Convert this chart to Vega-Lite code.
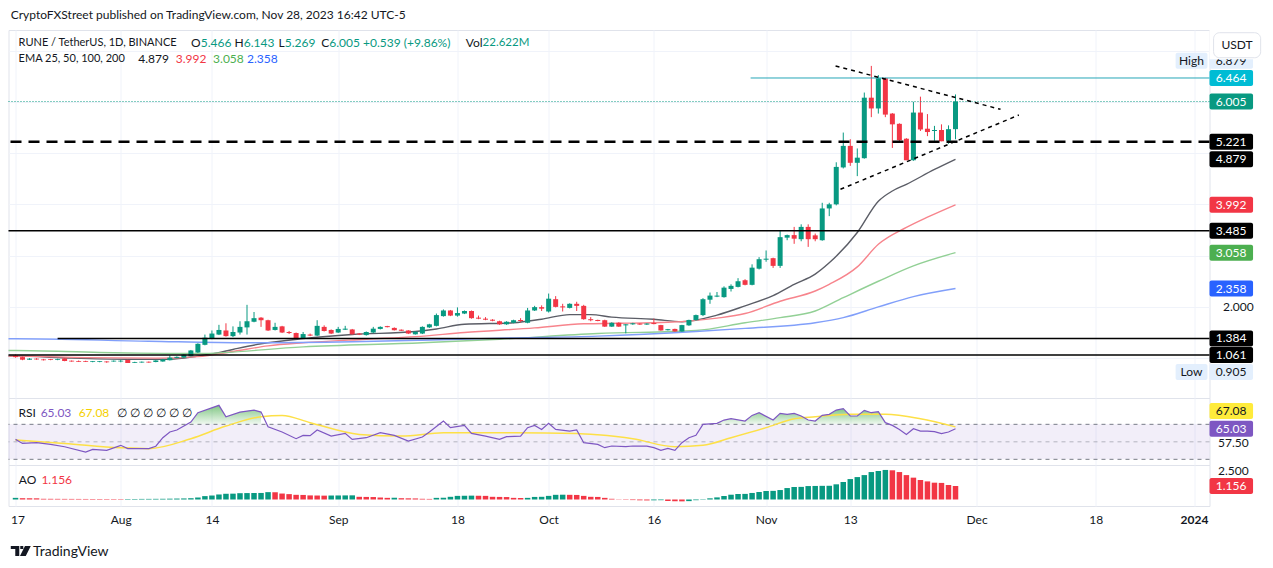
{
"$schema": "https://vega.github.io/schema/vega-lite/v6.json",
"background": "#ffffff",
"padding": {"left": 4.5, "top": 8, "right": 0, "bottom": 0},
"spacing": 0,
"bounds": "flush",
"resolve": {"scale": {"color": "independent", "fill": "independent"}},
"title": {"text": "CryptoFXStreet published on TradingView.com, Nov 28, 2023 16:42 UTC-5", "anchor": "start", "dx": 5.5, "fontSize": 12, "fontWeight": "normal", "color": "#131722", "offset": 8},
"config": {"font": "Lato", "view": {"stroke": "#e0e3eb"}, "axis": {"labelColor": "#131722", "labelFontSize": 12}},
"datasets": {
"one": [{}],
"ohlc": [
{"d":"2023-07-17","o":1.05,"h":1.07,"l":1.01,"c":1.02},
{"d":"2023-07-18","o":1.02,"h":1.03,"l":0.96,"c":0.97},
{"d":"2023-07-19","o":0.97,"h":1.0,"l":0.965,"c":0.99},
{"d":"2023-07-20","o":0.99,"h":1.0,"l":0.97,"c":0.975},
{"d":"2023-07-21","o":0.975,"h":0.985,"l":0.955,"c":0.96},
{"d":"2023-07-22","o":0.98,"h":0.985,"l":0.96,"c":0.965},
{"d":"2023-07-23","o":0.965,"h":0.99,"l":0.96,"c":0.98},
{"d":"2023-07-24","o":0.995,"h":1.0,"l":0.94,"c":0.945},
{"d":"2023-07-25","o":0.95,"h":0.955,"l":0.93,"c":0.935},
{"d":"2023-07-26","o":0.945,"h":0.955,"l":0.925,"c":0.93},
{"d":"2023-07-27","o":0.945,"h":0.95,"l":0.925,"c":0.93},
{"d":"2023-07-28","o":0.925,"h":0.945,"l":0.92,"c":0.94},
{"d":"2023-07-29","o":0.925,"h":0.945,"l":0.92,"c":0.94},
{"d":"2023-07-30","o":0.935,"h":0.94,"l":0.91,"c":0.92},
{"d":"2023-07-31","o":0.935,"h":0.955,"l":0.93,"c":0.95},
{"d":"2023-08-01","o":0.935,"h":0.965,"l":0.92,"c":0.95},
{"d":"2023-08-02","o":0.965,"h":0.97,"l":0.905,"c":0.905},
{"d":"2023-08-03","o":0.91,"h":0.93,"l":0.905,"c":0.925},
{"d":"2023-08-04","o":0.915,"h":0.935,"l":0.91,"c":0.93},
{"d":"2023-08-05","o":0.93,"h":0.935,"l":0.91,"c":0.915},
{"d":"2023-08-06","o":0.925,"h":0.96,"l":0.92,"c":0.955},
{"d":"2023-08-07","o":0.935,"h":0.985,"l":0.93,"c":0.975},
{"d":"2023-08-08","o":0.96,"h":1.055,"l":0.955,"c":1.01},
{"d":"2023-08-09","o":1.005,"h":1.035,"l":1.0,"c":1.025},
{"d":"2023-08-10","o":1.01,"h":1.075,"l":1.005,"c":1.07},
{"d":"2023-08-11","o":1.04,"h":1.16,"l":1.035,"c":1.15},
{"d":"2023-08-12","o":1.11,"h":1.29,"l":1.1,"c":1.28},
{"d":"2023-08-13","o":1.26,"h":1.46,"l":1.25,"c":1.4},
{"d":"2023-08-14","o":1.39,"h":1.54,"l":1.37,"c":1.48},
{"d":"2023-08-15","o":1.46,"h":1.65,"l":1.45,"c":1.55},
{"d":"2023-08-16","o":1.54,"h":1.68,"l":1.42,"c":1.43},
{"d":"2023-08-17","o":1.43,"h":1.62,"l":1.41,"c":1.51},
{"d":"2023-08-18","o":1.5,"h":1.72,"l":1.46,"c":1.61},
{"d":"2023-08-19","o":1.6,"h":2.04,"l":1.46,"c":1.72},
{"d":"2023-08-20","o":1.71,"h":1.9,"l":1.7,"c":1.78},
{"d":"2023-08-21","o":1.79,"h":1.8,"l":1.61,"c":1.74},
{"d":"2023-08-22","o":1.74,"h":1.75,"l":1.53,"c":1.54},
{"d":"2023-08-23","o":1.55,"h":1.69,"l":1.54,"c":1.61},
{"d":"2023-08-24","o":1.62,"h":1.63,"l":1.49,"c":1.5},
{"d":"2023-08-25","o":1.51,"h":1.53,"l":1.47,"c":1.49},
{"d":"2023-08-26","o":1.49,"h":1.5,"l":1.38,"c":1.39},
{"d":"2023-08-27","o":1.39,"h":1.51,"l":1.38,"c":1.47},
{"d":"2023-08-28","o":1.46,"h":1.48,"l":1.43,"c":1.44},
{"d":"2023-08-29","o":1.44,"h":1.74,"l":1.43,"c":1.63},
{"d":"2023-08-30","o":1.61,"h":1.64,"l":1.52,"c":1.53},
{"d":"2023-08-31","o":1.55,"h":1.56,"l":1.47,"c":1.48},
{"d":"2023-09-01","o":1.5,"h":1.61,"l":1.49,"c":1.57},
{"d":"2023-09-02","o":1.555,"h":1.63,"l":1.55,"c":1.575},
{"d":"2023-09-03","o":1.56,"h":1.57,"l":1.46,"c":1.465},
{"d":"2023-09-04","o":1.48,"h":1.49,"l":1.45,"c":1.46},
{"d":"2023-09-05","o":1.45,"h":1.52,"l":1.44,"c":1.51},
{"d":"2023-09-06","o":1.5,"h":1.61,"l":1.49,"c":1.575},
{"d":"2023-09-07","o":1.57,"h":1.62,"l":1.56,"c":1.61},
{"d":"2023-09-08","o":1.625,"h":1.63,"l":1.6,"c":1.605},
{"d":"2023-09-09","o":1.59,"h":1.6,"l":1.54,"c":1.545},
{"d":"2023-09-10","o":1.555,"h":1.56,"l":1.53,"c":1.535},
{"d":"2023-09-11","o":1.54,"h":1.545,"l":1.47,"c":1.48},
{"d":"2023-09-12","o":1.465,"h":1.52,"l":1.46,"c":1.515},
{"d":"2023-09-13","o":1.48,"h":1.62,"l":1.47,"c":1.61},
{"d":"2023-09-14","o":1.6,"h":1.67,"l":1.59,"c":1.66},
{"d":"2023-09-15","o":1.63,"h":1.87,"l":1.62,"c":1.84},
{"d":"2023-09-16","o":1.82,"h":1.95,"l":1.81,"c":1.93},
{"d":"2023-09-17","o":1.93,"h":1.94,"l":1.82,"c":1.83},
{"d":"2023-09-18","o":1.83,"h":1.99,"l":1.81,"c":1.88},
{"d":"2023-09-19","o":1.87,"h":1.93,"l":1.86,"c":1.92},
{"d":"2023-09-20","o":1.92,"h":1.93,"l":1.77,"c":1.78},
{"d":"2023-09-21","o":1.79,"h":1.83,"l":1.76,"c":1.77},
{"d":"2023-09-22","o":1.77,"h":1.8,"l":1.74,"c":1.75},
{"d":"2023-09-23","o":1.75,"h":1.76,"l":1.72,"c":1.73},
{"d":"2023-09-24","o":1.72,"h":1.73,"l":1.65,"c":1.66},
{"d":"2023-09-25","o":1.66,"h":1.72,"l":1.65,"c":1.71},
{"d":"2023-09-26","o":1.69,"h":1.75,"l":1.68,"c":1.74},
{"d":"2023-09-27","o":1.745,"h":1.78,"l":1.7,"c":1.725},
{"d":"2023-09-28","o":1.69,"h":1.98,"l":1.68,"c":1.93},
{"d":"2023-09-29","o":1.93,"h":2.02,"l":1.92,"c":1.995},
{"d":"2023-09-30","o":1.995,"h":2.03,"l":1.92,"c":1.965},
{"d":"2023-10-01","o":1.91,"h":2.26,"l":1.89,"c":2.16},
{"d":"2023-10-02","o":2.15,"h":2.21,"l":1.99,"c":2.0},
{"d":"2023-10-03","o":2.01,"h":2.06,"l":1.91,"c":1.99},
{"d":"2023-10-04","o":1.98,"h":2.07,"l":1.97,"c":2.06},
{"d":"2023-10-05","o":2.06,"h":2.1,"l":1.92,"c":2.02},
{"d":"2023-10-06","o":2.02,"h":2.04,"l":1.75,"c":1.76},
{"d":"2023-10-07","o":1.76,"h":1.8,"l":1.72,"c":1.74},
{"d":"2023-10-08","o":1.745,"h":1.75,"l":1.72,"c":1.725},
{"d":"2023-10-09","o":1.74,"h":1.75,"l":1.61,"c":1.615},
{"d":"2023-10-10","o":1.615,"h":1.7,"l":1.61,"c":1.69},
{"d":"2023-10-11","o":1.69,"h":1.7,"l":1.61,"c":1.615},
{"d":"2023-10-12","o":1.64,"h":1.665,"l":1.484,"c":1.66},
{"d":"2023-10-13","o":1.66,"h":1.69,"l":1.65,"c":1.68},
{"d":"2023-10-14","o":1.675,"h":1.68,"l":1.65,"c":1.655},
{"d":"2023-10-15","o":1.655,"h":1.68,"l":1.65,"c":1.675},
{"d":"2023-10-16","o":1.685,"h":1.77,"l":1.66,"c":1.665},
{"d":"2023-10-17","o":1.645,"h":1.65,"l":1.535,"c":1.54},
{"d":"2023-10-18","o":1.545,"h":1.57,"l":1.54,"c":1.565},
{"d":"2023-10-19","o":1.57,"h":1.575,"l":1.515,"c":1.52},
{"d":"2023-10-20","o":1.52,"h":1.65,"l":1.515,"c":1.645},
{"d":"2023-10-21","o":1.64,"h":1.75,"l":1.63,"c":1.745},
{"d":"2023-10-22","o":1.74,"h":1.85,"l":1.73,"c":1.84},
{"d":"2023-10-23","o":1.84,"h":2.17,"l":1.82,"c":2.15},
{"d":"2023-10-24","o":2.14,"h":2.28,"l":2.06,"c":2.22},
{"d":"2023-10-25","o":2.2,"h":2.29,"l":2.19,"c":2.22},
{"d":"2023-10-26","o":2.19,"h":2.4,"l":2.18,"c":2.375},
{"d":"2023-10-27","o":2.35,"h":2.44,"l":2.3,"c":2.41},
{"d":"2023-10-28","o":2.39,"h":2.56,"l":2.38,"c":2.5},
{"d":"2023-10-29","o":2.52,"h":2.54,"l":2.42,"c":2.43},
{"d":"2023-10-30","o":2.43,"h":2.83,"l":2.42,"c":2.765},
{"d":"2023-10-31","o":2.745,"h":2.97,"l":2.73,"c":2.93},
{"d":"2023-11-01","o":2.92,"h":3.1,"l":2.88,"c":2.94},
{"d":"2023-11-02","o":2.95,"h":2.96,"l":2.76,"c":2.8},
{"d":"2023-11-03","o":2.8,"h":3.48,"l":2.76,"c":3.36},
{"d":"2023-11-04","o":3.35,"h":3.41,"l":3.3,"c":3.4},
{"d":"2023-11-05","o":3.4,"h":3.56,"l":3.23,"c":3.33},
{"d":"2023-11-06","o":3.32,"h":3.61,"l":3.28,"c":3.56},
{"d":"2023-11-07","o":3.56,"h":3.61,"l":3.17,"c":3.32},
{"d":"2023-11-08","o":3.395,"h":3.43,"l":3.28,"c":3.32},
{"d":"2023-11-09","o":3.3,"h":4.03,"l":3.29,"c":3.92},
{"d":"2023-11-10","o":3.92,"h":4.03,"l":3.77,"c":4.0},
{"d":"2023-11-11","o":4.0,"h":4.82,"l":3.98,"c":4.73},
{"d":"2023-11-12","o":4.72,"h":5.4,"l":4.7,"c":5.14},
{"d":"2023-11-13","o":5.14,"h":5.27,"l":4.75,"c":4.81},
{"d":"2023-11-14","o":4.81,"h":5.09,"l":4.55,"c":4.91},
{"d":"2023-11-15","o":4.9,"h":6.18,"l":4.89,"c":6.08},
{"d":"2023-11-16","o":6.08,"h":6.7,"l":5.7,"c":5.87},
{"d":"2023-11-17","o":5.87,"h":6.52,"l":5.77,"c":6.46},
{"d":"2023-11-18","o":6.46,"h":6.47,"l":5.7,"c":5.75},
{"d":"2023-11-19","o":5.77,"h":5.78,"l":5.1,"c":5.56},
{"d":"2023-11-20","o":5.57,"h":5.58,"l":5.22,"c":5.25},
{"d":"2023-11-21","o":5.28,"h":5.29,"l":4.86,"c":4.86},
{"d":"2023-11-22","o":4.86,"h":6.0,"l":4.85,"c":5.79},
{"d":"2023-11-23","o":5.79,"h":6.1,"l":5.43,"c":5.46},
{"d":"2023-11-24","o":5.475,"h":5.76,"l":5.33,"c":5.41},
{"d":"2023-11-25","o":5.43,"h":5.53,"l":5.24,"c":5.45},
{"d":"2023-11-26","o":5.45,"h":5.56,"l":5.23,"c":5.23},
{"d":"2023-11-27","o":5.24,"h":5.54,"l":5.18,"c":5.466},
{"d":"2023-11-28","o":5.466,"h":6.143,"l":5.269,"c":6.005}
],
"ema": [
{"d":"2023-07-16","n":"25","v":1.04},{"d":"2023-07-17","n":"25","v":1.04},{"d":"2023-07-25","n":"25","v":1.0},{"d":"2023-08-02","n":"25","v":0.98},{"d":"2023-08-08","n":"25","v":0.98},{"d":"2023-08-12","n":"25","v":1.04},{"d":"2023-08-14","n":"25","v":1.08},{"d":"2023-08-17","n":"25","v":1.17},{"d":"2023-08-21","n":"25","v":1.28},{"d":"2023-08-27","n":"25","v":1.38},{"d":"2023-09-03","n":"25","v":1.46},{"d":"2023-09-12","n":"25","v":1.52},{"d":"2023-09-15","n":"25","v":1.57},{"d":"2023-09-19","n":"25","v":1.66},{"d":"2023-09-26","n":"25","v":1.69},{"d":"2023-09-30","n":"25","v":1.76},{"d":"2023-10-04","n":"25","v":1.85},{"d":"2023-10-07","n":"25","v":1.85},{"d":"2023-10-10","n":"25","v":1.8},{"d":"2023-10-16","n":"25","v":1.76},{"d":"2023-10-20","n":"25","v":1.71},{"d":"2023-10-25","n":"25","v":1.84},{"d":"2023-10-29","n":"25","v":2.02},{"d":"2023-11-02","n":"25","v":2.22},{"d":"2023-11-05","n":"25","v":2.44},{"d":"2023-11-08","n":"25","v":2.64},{"d":"2023-11-10","n":"25","v":2.86},{"d":"2023-11-14","n":"25","v":3.45},{"d":"2023-11-17","n":"25","v":4.06},{"d":"2023-11-19","n":"25","v":4.26},{"d":"2023-11-21","n":"25","v":4.39},{"d":"2023-11-25","n":"25","v":4.68},{"d":"2023-11-28","n":"25","v":4.879},
{"d":"2023-07-16","n":"50","v":1.04},{"d":"2023-07-17","n":"50","v":1.04},{"d":"2023-07-27","n":"50","v":1.01},{"d":"2023-08-06","n":"50","v":1.0},{"d":"2023-08-12","n":"50","v":1.03},{"d":"2023-08-17","n":"50","v":1.13},{"d":"2023-08-22","n":"50","v":1.24},{"d":"2023-08-27","n":"50","v":1.3},{"d":"2023-09-05","n":"50","v":1.37},{"d":"2023-09-12","n":"50","v":1.42},{"d":"2023-09-19","n":"50","v":1.5},{"d":"2023-09-29","n":"50","v":1.59},{"d":"2023-10-06","n":"50","v":1.67},{"d":"2023-10-11","n":"50","v":1.68},{"d":"2023-10-18","n":"50","v":1.7},{"d":"2023-10-25","n":"50","v":1.78},{"d":"2023-10-29","n":"50","v":1.87},{"d":"2023-11-03","n":"50","v":2.11},{"d":"2023-11-08","n":"50","v":2.31},{"d":"2023-11-10","n":"50","v":2.44},{"d":"2023-11-14","n":"50","v":2.78},{"d":"2023-11-17","n":"50","v":3.22},{"d":"2023-11-21","n":"50","v":3.55},{"d":"2023-11-24","n":"50","v":3.75},{"d":"2023-11-28","n":"50","v":3.992},
{"d":"2023-07-16","n":"100","v":1.15},{"d":"2023-07-17","n":"100","v":1.15},{"d":"2023-07-29","n":"100","v":1.11},{"d":"2023-08-12","n":"100","v":1.09},{"d":"2023-08-27","n":"100","v":1.22},{"d":"2023-09-13","n":"100","v":1.3},{"d":"2023-09-24","n":"100","v":1.37},{"d":"2023-10-08","n":"100","v":1.48},{"d":"2023-10-22","n":"100","v":1.54},{"d":"2023-10-29","n":"100","v":1.69},{"d":"2023-11-03","n":"100","v":1.79},{"d":"2023-11-08","n":"100","v":1.92},{"d":"2023-11-12","n":"100","v":2.18},{"d":"2023-11-17","n":"100","v":2.5},{"d":"2023-11-22","n":"100","v":2.8},{"d":"2023-11-28","n":"100","v":3.058},
{"d":"2023-07-16","n":"200","v":1.38},{"d":"2023-07-17","n":"200","v":1.38},{"d":"2023-08-05","n":"200","v":1.33},{"d":"2023-08-19","n":"200","v":1.3},{"d":"2023-09-03","n":"200","v":1.32},{"d":"2023-09-13","n":"200","v":1.35},{"d":"2023-09-24","n":"200","v":1.39},{"d":"2023-10-08","n":"200","v":1.43},{"d":"2023-10-22","n":"200","v":1.52},{"d":"2023-10-29","n":"200","v":1.58},{"d":"2023-11-08","n":"200","v":1.69},{"d":"2023-11-12","n":"200","v":1.79},{"d":"2023-11-17","n":"200","v":2.0},{"d":"2023-11-22","n":"200","v":2.2},{"d":"2023-11-28","n":"200","v":2.358}
],
"tri": [
{"x1":"2023-11-10T21:40:00Z","p1":6.698,"x2":"2023-12-04T10:00:00Z","p2":5.853},
{"x1":"2023-11-11T14:24:00Z","p1":4.293,"x2":"2023-12-07T00:45:00Z","p2":5.742}
],
"tags": [
{"v":6.464,"k":"cyan"},{"v":6.005,"k":"teal"},{"v":5.221,"k":"black"},{"v":4.879,"k":"black"},{"v":3.992,"k":"red"},{"v":3.485,"k":"black"},{"v":3.058,"k":"green"},{"v":2.358,"k":"blue"},{"v":1.384,"k":"black"},{"v":1.061,"k":"black"}
],
"rsi": [
{"d":"2023-07-17","v":52.8},{"d":"2023-07-18","v":48.2},{"d":"2023-07-20","v":49},{"d":"2023-07-22","v":47.1},{"d":"2023-07-24","v":44.4},{"d":"2023-07-27","v":38.3},{"d":"2023-07-28","v":41.4},{"d":"2023-07-30","v":40.2},{"d":"2023-08-01","v":46},{"d":"2023-08-02","v":42.2},{"d":"2023-08-05","v":42.2},{"d":"2023-08-06","v":45},{"d":"2023-08-07","v":54.7},{"d":"2023-08-08","v":61.2},{"d":"2023-08-09","v":63.5},{"d":"2023-08-11","v":72.6},{"d":"2023-08-12","v":83.3},{"d":"2023-08-15","v":91.7},{"d":"2023-08-16","v":78.7},{"d":"2023-08-18","v":84},{"d":"2023-08-20","v":86.3},{"d":"2023-08-21","v":84},{"d":"2023-08-22","v":67.3},{"d":"2023-08-24","v":61.2},{"d":"2023-08-26","v":53.6},{"d":"2023-08-27","v":57.4},{"d":"2023-08-28","v":57},{"d":"2023-08-29","v":63.5},{"d":"2023-08-31","v":56.6},{"d":"2023-09-02","v":59.7},{"d":"2023-09-03","v":52.8},{"d":"2023-09-05","v":54.7},{"d":"2023-09-07","v":60.4},{"d":"2023-09-09","v":57.4},{"d":"2023-09-11","v":50.9},{"d":"2023-09-13","v":55.5},{"d":"2023-09-14","v":61.2},{"d":"2023-09-16","v":73.8},{"d":"2023-09-17","v":66.2},{"d":"2023-09-19","v":68.8},{"d":"2023-09-20","v":59.7},{"d":"2023-09-22","v":56.6},{"d":"2023-09-24","v":52.8},{"d":"2023-09-25","v":55.9},{"d":"2023-09-27","v":56.5},{"d":"2023-09-28","v":66.2},{"d":"2023-09-29","v":68.8},{"d":"2023-09-30","v":64.2},{"d":"2023-10-01","v":71.1},{"d":"2023-10-02","v":64.2},{"d":"2023-10-04","v":62.3},{"d":"2023-10-05","v":63.5},{"d":"2023-10-06","v":49},{"d":"2023-10-08","v":47.1},{"d":"2023-10-09","v":43.3},{"d":"2023-10-10","v":45.2},{"d":"2023-10-12","v":44.4},{"d":"2023-10-13","v":45.2},{"d":"2023-10-15","v":45},{"d":"2023-10-16","v":43.3},{"d":"2023-10-17","v":40.2},{"d":"2023-10-18","v":42.5},{"d":"2023-10-19","v":40.2},{"d":"2023-10-20","v":49},{"d":"2023-10-21","v":54.7},{"d":"2023-10-22","v":57.4},{"d":"2023-10-23","v":70},{"d":"2023-10-25","v":71.1},{"d":"2023-10-26","v":74.9},{"d":"2023-10-27","v":76.4},{"d":"2023-10-29","v":73.8},{"d":"2023-10-30","v":80.2},{"d":"2023-10-31","v":83.3},{"d":"2023-11-02","v":74.9},{"d":"2023-11-03","v":82.5},{"d":"2023-11-04","v":81.4},{"d":"2023-11-05","v":82.5},{"d":"2023-11-06","v":79.5},{"d":"2023-11-07","v":74.9},{"d":"2023-11-08","v":73.8},{"d":"2023-11-09","v":80.2},{"d":"2023-11-10","v":81.4},{"d":"2023-11-11","v":86.3},{"d":"2023-11-12","v":87.9},{"d":"2023-11-13","v":79.5},{"d":"2023-11-14","v":79.5},{"d":"2023-11-15","v":86},{"d":"2023-11-16","v":83.3},{"d":"2023-11-17","v":84.4},{"d":"2023-11-18","v":71.9},{"d":"2023-11-19","v":68.8},{"d":"2023-11-20","v":64.2},{"d":"2023-11-21","v":58.5},{"d":"2023-11-22","v":65},{"d":"2023-11-23","v":62.3},{"d":"2023-11-24","v":62.3},{"d":"2023-11-25","v":61.6},{"d":"2023-11-26","v":59.3},{"d":"2023-11-27","v":61.2},{"d":"2023-11-28","v":65.03}
],
"rsima": [
{"d":"2023-07-17","v":52},{"d":"2023-07-24","v":48.2},{"d":"2023-08-01","v":43.3},{"d":"2023-08-05","v":42.2},{"d":"2023-08-11","v":53.6},{"d":"2023-08-16","v":68},{"d":"2023-08-21","v":78.7},{"d":"2023-08-24","v":80.2},{"d":"2023-08-28","v":71.9},{"d":"2023-09-04","v":58.5},{"d":"2023-09-10","v":56.6},{"d":"2023-09-16","v":60.4},{"d":"2023-09-26","v":60.4},{"d":"2023-10-05","v":59.5},{"d":"2023-10-08","v":58},{"d":"2023-10-13","v":53.6},{"d":"2023-10-19","v":44.4},{"d":"2023-10-23","v":46},{"d":"2023-10-27","v":54.7},{"d":"2023-11-01","v":66.2},{"d":"2023-11-05","v":76.4},{"d":"2023-11-08","v":78.7},{"d":"2023-11-13","v":81.4},{"d":"2023-11-18","v":81.4},{"d":"2023-11-23","v":76.4},{"d":"2023-11-28","v":67.08}
],
"ao": [
{"d":"2023-07-17","v":0.14,"s":"up"},{"d":"2023-07-18","v":0.11,"s":"dn"},{"d":"2023-07-19","v":0.105,"s":"dn"},{"d":"2023-07-20","v":0.1,"s":"dn"},{"d":"2023-07-21","v":0.06,"s":"dn"},{"d":"2023-07-22","v":0.058,"s":"dn"},{"d":"2023-07-23","v":0.055,"s":"dn"},{"d":"2023-07-24","v":0.052,"s":"dn"},{"d":"2023-07-25","v":0.05,"s":"dn"},{"d":"2023-07-26","v":0.048,"s":"dn"},{"d":"2023-07-27","v":0.046,"s":"dn"},{"d":"2023-07-28","v":0.044,"s":"dn"},{"d":"2023-07-29","v":0.042,"s":"dn"},{"d":"2023-07-30","v":0.04,"s":"dn"},{"d":"2023-07-31","v":0.038,"s":"dn"},{"d":"2023-08-01","v":0.036,"s":"dn"},
{"d":"2023-08-02","v":0.04,"s":"up"},{"d":"2023-08-03","v":0.045,"s":"up"},{"d":"2023-08-04","v":0.05,"s":"up"},{"d":"2023-08-05","v":0.052,"s":"up"},{"d":"2023-08-06","v":0.056,"s":"up"},{"d":"2023-08-07","v":0.06,"s":"up"},{"d":"2023-08-08","v":0.07,"s":"up"},{"d":"2023-08-09","v":0.08,"s":"up"},{"d":"2023-08-10","v":0.09,"s":"up"},{"d":"2023-08-11","v":0.11,"s":"up"},{"d":"2023-08-12","v":0.17,"s":"up"},{"d":"2023-08-13","v":0.29,"s":"up"},{"d":"2023-08-14","v":0.34,"s":"up"},{"d":"2023-08-15","v":0.43,"s":"up"},{"d":"2023-08-16","v":0.49,"s":"up"},{"d":"2023-08-17","v":0.5,"s":"up"},{"d":"2023-08-18","v":0.54,"s":"up"},{"d":"2023-08-19","v":0.55,"s":"up"},{"d":"2023-08-20","v":0.555,"s":"up"},{"d":"2023-08-21","v":0.56,"s":"up"},{"d":"2023-08-22","v":0.63,"s":"up"},
{"d":"2023-08-23","v":0.62,"s":"dn"},{"d":"2023-08-24","v":0.51,"s":"dn"},{"d":"2023-08-25","v":0.46,"s":"dn"},{"d":"2023-08-26","v":0.4,"s":"dn"},{"d":"2023-08-27","v":0.39,"s":"dn"},{"d":"2023-08-28","v":0.35,"s":"dn"},{"d":"2023-08-29","v":0.34,"s":"dn"},{"d":"2023-08-30","v":0.33,"s":"dn"},
{"d":"2023-08-31","v":0.34,"s":"up"},{"d":"2023-09-01","v":0.345,"s":"up"},{"d":"2023-09-02","v":0.35,"s":"up"},{"d":"2023-09-03","v":0.355,"s":"up"},
{"d":"2023-09-04","v":0.23,"s":"dn"},{"d":"2023-09-05","v":0.22,"s":"dn"},{"d":"2023-09-06","v":0.21,"s":"dn"},{"d":"2023-09-07","v":0.17,"s":"dn"},{"d":"2023-09-08","v":0.14,"s":"dn"},
{"d":"2023-09-09","v":0.15,"s":"up"},
{"d":"2023-09-10","v":0.11,"s":"dn"},{"d":"2023-09-11","v":0.1,"s":"dn"},{"d":"2023-09-12","v":0.09,"s":"dn"},{"d":"2023-09-13","v":0.06,"s":"dn"},{"d":"2023-09-14","v":0.05,"s":"dn"},
{"d":"2023-09-15","v":0.14,"s":"up"},{"d":"2023-09-16","v":0.15,"s":"up"},{"d":"2023-09-17","v":0.23,"s":"up"},{"d":"2023-09-18","v":0.31,"s":"up"},{"d":"2023-09-19","v":0.32,"s":"up"},{"d":"2023-09-20","v":0.33,"s":"up"},
{"d":"2023-09-21","v":0.32,"s":"dn"},{"d":"2023-09-22","v":0.31,"s":"dn"},{"d":"2023-09-23","v":0.23,"s":"dn"},{"d":"2023-09-24","v":0.22,"s":"dn"},{"d":"2023-09-25","v":0.21,"s":"dn"},{"d":"2023-09-26","v":0.14,"s":"dn"},{"d":"2023-09-27","v":0.13,"s":"dn"},
{"d":"2023-09-28","v":0.14,"s":"up"},{"d":"2023-09-29","v":0.22,"s":"up"},{"d":"2023-09-30","v":0.23,"s":"up"},{"d":"2023-10-01","v":0.31,"s":"up"},{"d":"2023-10-02","v":0.4,"s":"up"},{"d":"2023-10-03","v":0.41,"s":"up"},
{"d":"2023-10-04","v":0.4,"s":"dn"},{"d":"2023-10-05","v":0.39,"s":"dn"},{"d":"2023-10-06","v":0.31,"s":"dn"},{"d":"2023-10-07","v":0.23,"s":"dn"},{"d":"2023-10-08","v":0.22,"s":"dn"},{"d":"2023-10-09","v":0.14,"s":"dn"},{"d":"2023-10-10","v":0.06,"s":"dn"},{"d":"2023-10-11","v":0.02,"s":"dn"},{"d":"2023-10-12","v":-0.03,"s":"dn"},{"d":"2023-10-13","v":-0.05,"s":"dn"},{"d":"2023-10-14","v":-0.07,"s":"dn"},{"d":"2023-10-15","v":-0.08,"s":"dn"},
{"d":"2023-10-16","v":-0.07,"s":"up"},{"d":"2023-10-17","v":-0.06,"s":"up"},
{"d":"2023-10-18","v":-0.13,"s":"dn"},{"d":"2023-10-19","v":-0.15,"s":"dn"},{"d":"2023-10-20","v":-0.16,"s":"dn"},
{"d":"2023-10-21","v":-0.14,"s":"up"},{"d":"2023-10-22","v":-0.06,"s":"up"},{"d":"2023-10-23","v":0.03,"s":"up"},{"d":"2023-10-24","v":0.1,"s":"up"},{"d":"2023-10-25","v":0.18,"s":"up"},{"d":"2023-10-26","v":0.3,"s":"up"},{"d":"2023-10-27","v":0.41,"s":"up"},{"d":"2023-10-28","v":0.47,"s":"up"},{"d":"2023-10-29","v":0.48,"s":"up"},{"d":"2023-10-30","v":0.56,"s":"up"},{"d":"2023-10-31","v":0.64,"s":"up"},{"d":"2023-11-01","v":0.73,"s":"up"},{"d":"2023-11-02","v":0.74,"s":"up"},{"d":"2023-11-03","v":0.81,"s":"up"},{"d":"2023-11-04","v":0.98,"s":"up"},{"d":"2023-11-05","v":1.07,"s":"up"},{"d":"2023-11-06","v":1.08,"s":"up"},{"d":"2023-11-07","v":1.15,"s":"up"},{"d":"2023-11-08","v":1.16,"s":"up"},{"d":"2023-11-09","v":1.17,"s":"up"},{"d":"2023-11-10","v":1.175,"s":"up"},{"d":"2023-11-11","v":1.3,"s":"up"},{"d":"2023-11-12","v":1.5,"s":"up"},{"d":"2023-11-13","v":1.75,"s":"up"},{"d":"2023-11-14","v":1.92,"s":"up"},{"d":"2023-11-15","v":2.09,"s":"up"},{"d":"2023-11-16","v":2.35,"s":"up"},{"d":"2023-11-17","v":2.44,"s":"up"},{"d":"2023-11-18","v":2.53,"s":"up"},
{"d":"2023-11-19","v":2.5,"s":"dn"},{"d":"2023-11-20","v":2.35,"s":"dn"},{"d":"2023-11-21","v":2.09,"s":"dn"},{"d":"2023-11-22","v":1.87,"s":"dn"},{"d":"2023-11-23","v":1.67,"s":"dn"},{"d":"2023-11-24","v":1.55,"s":"dn"},{"d":"2023-11-25","v":1.44,"s":"dn"},{"d":"2023-11-26","v":1.42,"s":"dn"},{"d":"2023-11-27","v":1.24,"s":"dn"},{"d":"2023-11-28","v":1.156,"s":"dn"}
]
},
"vconcat": [
{
"width": 1201, "height": 368,
"layer": [
{"data": {"name": "ema"}, "mark": {"type": "line", "strokeWidth": 1.4, "interpolate": "monotone"},
 "encoding": {
  "x": {"field": "d", "type": "temporal", "scale": {"type": "utc", "padding": 0, "domain": [{"year":2023,"month":7,"date":16,"utc":true},{"year":2024,"month":1,"date":3,"hours":5,"utc":true}]},
        "axis": {"labels": false, "ticks": false, "domain": false, "title": null, "grid": true, "gridColor": "#f0f3fa",
                 "values": [{"year":2023,"month":7,"date":17,"utc":true},{"year":2023,"month":8,"date":1,"utc":true},{"year":2023,"month":8,"date":14,"utc":true},{"year":2023,"month":9,"date":1,"utc":true},{"year":2023,"month":9,"date":18,"utc":true},{"year":2023,"month":10,"date":1,"utc":true},{"year":2023,"month":10,"date":16,"utc":true},{"year":2023,"month":11,"date":1,"utc":true},{"year":2023,"month":11,"date":13,"utc":true},{"year":2023,"month":12,"date":1,"utc":true},{"year":2023,"month":12,"date":18,"utc":true},{"year":2024,"month":1,"date":1,"utc":true}]}},
  "y": {"field": "v", "type": "quantitative", "scale": {"domain": [0.223, 7.4], "nice": false, "zero": false, "padding": 0},
        "axis": {"orient": "right", "values": [1,2,3,4,5,6,7], "grid": true, "gridColor": "#f0f3fa", "ticks": false, "domain": false, "title": null, "labelPadding": 13, "labelExpr": "datum.value == 2 ? '2.000' : ''"}},
  "color": {"field": "n", "type": "nominal", "scale": {"domain": ["25","50","100","200"], "range": ["#5b5d66","#f7848c","#92d095","#819ffa"]}, "legend": null}
 }},
{"data": {"name": "ohlc"}, "mark": {"type": "rule", "strokeWidth": 1},
 "encoding": {"x": {"field": "d", "type": "temporal"}, "y": {"field": "l", "type": "quantitative"}, "y2": {"field": "h"},
  "color": {"condition": {"test": "datum.c >= datum.o", "value": "#089981"}, "value": "#f23645"}}},
{"data": {"name": "ohlc"}, "mark": {"type": "bar", "size": 5},
 "encoding": {"x": {"field": "d", "type": "temporal"}, "y": {"field": "o", "type": "quantitative"}, "y2": {"field": "c"},
  "color": {"condition": {"test": "datum.c >= datum.o", "value": "#089981"}, "value": "#f23645"}}},
{"data": {"name": "one"}, "mark": {"type": "rule", "color": "#089981", "strokeDash": [1, 2], "strokeWidth": 1}, "encoding": {"y": {"datum": 6.005}}},
{"data": {"name": "one"}, "mark": {"type": "rule", "color": "#000000", "strokeDash": [11, 7], "strokeWidth": 2.5}, "encoding": {"y": {"datum": 5.221}}},
{"data": {"name": "one"}, "mark": {"type": "rule", "color": "#000000", "strokeWidth": 1.5}, "encoding": {"y": {"datum": 3.485}}},
{"data": {"name": "one"}, "mark": {"type": "rule", "color": "#000000", "strokeWidth": 1.5}, "encoding": {"y": {"datum": 1.061}}},
{"data": {"name": "one"}, "mark": {"type": "rule", "color": "#000000", "strokeWidth": 1.5},
 "encoding": {"x": {"datum": {"year":2023,"month":7,"date":23,"utc":true}, "type": "temporal"}, "x2": {"datum": {"year":2024,"month":1,"date":3,"hours":5,"utc":true}}, "y": {"datum": 1.384}}},
{"data": {"name": "one"}, "mark": {"type": "rule", "color": "#26a6b8", "strokeWidth": 1},
 "encoding": {"x": {"datum": {"year":2023,"month":10,"date":29,"hours":19,"utc":true}, "type": "temporal"}, "x2": {"datum": {"year":2024,"month":1,"date":3,"hours":5,"utc":true}}, "y": {"datum": 6.464}}},
{"data": {"name": "tri"}, "mark": {"type": "rule", "color": "#000000", "strokeDash": [4, 4], "strokeWidth": 1.5},
 "encoding": {"x": {"field": "x1", "type": "temporal"}, "x2": {"field": "x2"}, "y": {"field": "p1", "type": "quantitative"}, "y2": {"field": "p2"}}},
{"data": {"name": "tags"}, "mark": {"type": "rect", "yOffset": -8, "y2Offset": 8, "cornerRadius": 2},
 "encoding": {"x": {"datum": {"year":2024,"month":1,"date":3,"hours":5,"utc":true}, "type": "temporal"}, "x2": {"datum": {"year":2024,"month":1,"date":9,"hours":10,"utc":true}},
  "y": {"field": "v", "type": "quantitative"}, "y2": {"field": "v"},
  "fill": {"field": "k", "type": "nominal", "scale": {"domain": ["cyan","teal","black","red","green","blue"], "range": ["#00bcd4","#089981","#000000","#f23645","#4caf50","#2962ff"]}, "legend": null}}},
{"data": {"name": "tags"}, "mark": {"type": "text", "color": "#ffffff", "fontSize": 12, "baseline": "middle", "align": "center"},
 "encoding": {"x": {"datum": {"year":2024,"month":1,"date":6,"hours":7,"utc":true}, "type": "temporal"}, "y": {"field": "v", "type": "quantitative"}, "text": {"field": "v", "format": ".3f"}}},
{"data": {"values": [{"v": 6.879}]}, "layer": [
 {"mark": {"type": "rect", "color": "#e3effd", "yOffset": -4, "y2Offset": 12, "cornerRadius": 2},
  "encoding": {"x": {"datum": {"year":2024,"month":1,"date":3,"hours":5,"utc":true}, "type": "temporal"}, "x2": {"datum": {"year":2024,"month":1,"date":9,"hours":10,"utc":true}}, "y": {"field": "v", "type": "quantitative"}, "y2": {"field": "v"}}},
 {"mark": {"type": "rect", "color": "#e3effd", "yOffset": -4, "y2Offset": 12, "cornerRadius": 2},
  "encoding": {"x": {"datum": {"year":2023,"month":12,"date":29,"hours":9,"utc":true}, "type": "temporal"}, "x2": {"datum": {"year":2024,"month":1,"date":2,"hours":22,"utc":true}}, "y": {"field": "v", "type": "quantitative"}, "y2": {"field": "v"}}},
 {"mark": {"type": "text", "color": "#131722", "fontSize": 12, "dy": 4, "baseline": "middle", "align": "center"},
  "encoding": {"x": {"datum": {"year":2024,"month":1,"date":6,"hours":7,"utc":true}, "type": "temporal"}, "y": {"field": "v", "type": "quantitative"}, "text": {"field": "v", "format": ".3f"}}},
 {"mark": {"type": "text", "color": "#131722", "fontSize": 12, "dy": 4, "baseline": "middle", "align": "center"},
  "encoding": {"x": {"datum": {"year":2023,"month":12,"date":31,"hours":15,"utc":true}, "type": "temporal"}, "y": {"field": "v", "type": "quantitative"}, "text": {"value": "High"}}}
]},
{"data": {"values": [{"v": 0.905}]}, "layer": [
 {"mark": {"type": "rect", "color": "#e3effd", "yOffset": 1, "y2Offset": 17, "cornerRadius": 2},
  "encoding": {"x": {"datum": {"year":2024,"month":1,"date":3,"hours":5,"utc":true}, "type": "temporal"}, "x2": {"datum": {"year":2024,"month":1,"date":9,"hours":10,"utc":true}}, "y": {"field": "v", "type": "quantitative"}, "y2": {"field": "v"}}},
 {"mark": {"type": "rect", "color": "#e3effd", "yOffset": 1, "y2Offset": 17, "cornerRadius": 2},
  "encoding": {"x": {"datum": {"year":2023,"month":12,"date":29,"hours":9,"utc":true}, "type": "temporal"}, "x2": {"datum": {"year":2024,"month":1,"date":2,"hours":22,"utc":true}}, "y": {"field": "v", "type": "quantitative"}, "y2": {"field": "v"}}},
 {"mark": {"type": "text", "color": "#131722", "fontSize": 12, "dy": 9, "baseline": "middle", "align": "center"},
  "encoding": {"x": {"datum": {"year":2024,"month":1,"date":6,"hours":7,"utc":true}, "type": "temporal"}, "y": {"field": "v", "type": "quantitative"}, "text": {"field": "v", "format": ".3f"}}},
 {"mark": {"type": "text", "color": "#131722", "fontSize": 12, "dy": 9, "baseline": "middle", "align": "center"},
  "encoding": {"x": {"datum": {"year":2023,"month":12,"date":31,"hours":15,"utc":true}, "type": "temporal"}, "y": {"field": "v", "type": "quantitative"}, "text": {"value": "Low"}}}
]},
{"data": {"name": "one"}, "mark": {"type": "rect", "fill": "#ffffff"},
 "encoding": {"x": {"datum": {"year":2024,"month":1,"date":3,"hours":5,"utc":true}, "type": "temporal"}, "x2": {"datum": {"year":2024,"month":1,"date":10,"hours":18,"utc":true}}, "y": {"datum": 7.4}, "y2": {"datum": 6.83}}},
{"data": {"name": "one"}, "mark": {"type": "rect", "fill": "#ffffff", "stroke": "#e0e3eb", "strokeWidth": 1, "cornerRadius": 6},
 "encoding": {"x": {"datum": {"year":2024,"month":1,"date":3,"hours":19,"utc":true}, "type": "temporal"}, "x2": {"datum": {"year":2024,"month":1,"date":10,"hours":12,"utc":true}}, "y": {"datum": 7.347}, "y2": {"datum": 6.859}}},
{"data": {"name": "one"}, "mark": {"type": "text", "color": "#131722", "fontSize": 12, "baseline": "middle", "align": "center"},
 "encoding": {"x": {"datum": {"year":2024,"month":1,"date":7,"hours":3,"utc":true}, "type": "temporal"}, "y": {"datum": 7.104}, "text": {"value": "USDT"}}},
{"data": {"name": "one"}, "mark": {"type": "text", "align": "left", "baseline": "middle", "fontSize": 11, "color": "#131722"},
 "encoding": {"x": {"datum": {"year":2023,"month":7,"date":17,"hours":10,"minutes":30,"utc":true}, "type": "temporal"}, "y": {"datum": 7.147}, "text": {"value": "RUNE / TetherUS, 1D, BINANCE"}}},
{"data": {"name": "one"}, "mark": {"type": "text", "align": "right", "baseline": "middle", "fontSize": 12, "color": "#131722"},
 "encoding": {"x": {"datum": {"year":2023,"month":8,"date":12,"hours":9,"minutes":30,"utc":true}, "type": "temporal"}, "y": {"datum": 7.147}, "text": {"value": "O"}}},
{"data": {"name": "one"}, "mark": {"type": "text", "align": "left", "baseline": "middle", "fontSize": 12, "color": "#089981"},
 "encoding": {"x": {"datum": {"year":2023,"month":8,"date":12,"hours":9,"minutes":30,"utc":true}, "type": "temporal"}, "y": {"datum": 7.147}, "text": {"value": "5.466"}}},
{"data": {"name": "one"}, "mark": {"type": "text", "align": "right", "baseline": "middle", "fontSize": 12, "color": "#131722"},
 "encoding": {"x": {"datum": {"year":2023,"month":8,"date":18,"hours":13,"utc":true}, "type": "temporal"}, "y": {"datum": 7.147}, "text": {"value": "H"}}},
{"data": {"name": "one"}, "mark": {"type": "text", "align": "left", "baseline": "middle", "fontSize": 12, "color": "#089981"},
 "encoding": {"x": {"datum": {"year":2023,"month":8,"date":18,"hours":13,"utc":true}, "type": "temporal"}, "y": {"datum": 7.147}, "text": {"value": "6.143"}}},
{"data": {"name": "one"}, "mark": {"type": "text", "align": "right", "baseline": "middle", "fontSize": 12, "color": "#131722"},
 "encoding": {"x": {"datum": {"year":2023,"month":8,"date":24,"hours":9,"utc":true}, "type": "temporal"}, "y": {"datum": 7.147}, "text": {"value": "L"}}},
{"data": {"name": "one"}, "mark": {"type": "text", "align": "left", "baseline": "middle", "fontSize": 12, "color": "#089981"},
 "encoding": {"x": {"datum": {"year":2023,"month":8,"date":24,"hours":9,"utc":true}, "type": "temporal"}, "y": {"datum": 7.147}, "text": {"value": "5.269"}}},
{"data": {"name": "one"}, "mark": {"type": "text", "align": "right", "baseline": "middle", "fontSize": 12, "color": "#131722"},
 "encoding": {"x": {"datum": {"year":2023,"month":8,"date":30,"hours":17,"minutes":30,"utc":true}, "type": "temporal"}, "y": {"datum": 7.147}, "text": {"value": "C"}}},
{"data": {"name": "one"}, "mark": {"type": "text", "align": "left", "baseline": "middle", "fontSize": 12, "color": "#089981"},
 "encoding": {"x": {"datum": {"year":2023,"month":8,"date":30,"hours":17,"minutes":30,"utc":true}, "type": "temporal"}, "y": {"datum": 7.147}, "text": {"value": "6.005 +0.539 (+9.86%)"}}},
{"data": {"name": "one"}, "mark": {"type": "text", "align": "right", "baseline": "middle", "fontSize": 12, "color": "#131722"},
 "encoding": {"x": {"datum": {"year":2023,"month":9,"date":21,"hours":14,"utc":true}, "type": "temporal"}, "y": {"datum": 7.147}, "text": {"value": "Vol"}}},
{"data": {"name": "one"}, "mark": {"type": "text", "align": "left", "baseline": "middle", "fontSize": 11.5, "color": "#089981"},
 "encoding": {"x": {"datum": {"year":2023,"month":9,"date":21,"hours":14,"utc":true}, "type": "temporal"}, "y": {"datum": 7.147}, "text": {"value": "22.622M"}}},
{"data": {"name": "one"}, "mark": {"type": "text", "align": "left", "baseline": "middle", "fontSize": 11, "color": "#131722"},
 "encoding": {"x": {"datum": {"year":2023,"month":7,"date":17,"hours":10,"minutes":30,"utc":true}, "type": "temporal"}, "y": {"datum": 6.825}, "text": {"value": "EMA 25, 50, 100, 200"}}},
{"data": {"name": "one"}, "mark": {"type": "text", "align": "left", "baseline": "middle", "fontSize": 12, "color": "#131722"},
 "encoding": {"x": {"datum": {"year":2023,"month":8,"date":3,"hours":12,"utc":true}, "type": "temporal"}, "y": {"datum": 6.825}, "text": {"value": "4.879"}}},
{"data": {"name": "one"}, "mark": {"type": "text", "align": "left", "baseline": "middle", "fontSize": 12, "color": "#f23645"},
 "encoding": {"x": {"datum": {"year":2023,"month":8,"date":8,"hours":20,"utc":true}, "type": "temporal"}, "y": {"datum": 6.825}, "text": {"value": "3.992"}}},
{"data": {"name": "one"}, "mark": {"type": "text", "align": "left", "baseline": "middle", "fontSize": 12, "color": "#4caf50"},
 "encoding": {"x": {"datum": {"year":2023,"month":8,"date":14,"hours":4,"utc":true}, "type": "temporal"}, "y": {"datum": 6.825}, "text": {"value": "3.058"}}},
{"data": {"name": "one"}, "mark": {"type": "text", "align": "left", "baseline": "middle", "fontSize": 12, "color": "#2962ff"},
 "encoding": {"x": {"datum": {"year":2023,"month":8,"date":19,"utc":true}, "type": "temporal"}, "y": {"datum": 6.825}, "text": {"value": "2.358"}}}
]
},
{
"width": 1201, "height": 67,
"layer": [
{"data": {"name": "one"}, "mark": {"type": "rect", "color": "#7e57c2", "opacity": 0.1}, "encoding": {"y": {"datum": 70}, "y2": {"datum": 30}}},
{"data": {"name": "one"}, "mark": {"type": "rule", "color": "#787b86", "strokeDash": [4, 4], "strokeWidth": 1}, "encoding": {"y": {"datum": 70}}},
{"data": {"name": "one"}, "mark": {"type": "rule", "color": "#787b86", "strokeDash": [4, 4], "strokeWidth": 1, "opacity": 0.5}, "encoding": {"y": {"datum": 50}}},
{"data": {"name": "one"}, "mark": {"type": "rule", "color": "#787b86", "strokeDash": [4, 4], "strokeWidth": 1}, "encoding": {"y": {"datum": 30}}},
{"data": {"name": "rsi"}, "transform": [{"filter": {"and": [{"field": "v", "gte": 70}, {"field": "d", "lte": {"year":2023,"month":8,"date":31,"utc":true}}]}}],
 "mark": {"type": "area", "color": {"gradient": "linear", "x1": 0, "y1": 0, "x2": 0, "y2": 1, "stops": [{"offset": 0, "color": "rgba(76,175,80,0.7)"}, {"offset": 1, "color": "rgba(76,175,80,0.08)"}]}},
 "encoding": {"x": {"field": "d", "type": "temporal"}, "y": {"field": "v", "type": "quantitative"}, "y2": {"datum": 70}}},
{"data": {"name": "rsi"}, "transform": [{"filter": {"and": [{"field": "v", "gte": 70}, {"field": "d", "gte": {"year":2023,"month":10,"date":20,"utc":true}}]}}],
 "mark": {"type": "area", "color": {"gradient": "linear", "x1": 0, "y1": 0, "x2": 0, "y2": 1, "stops": [{"offset": 0, "color": "rgba(76,175,80,0.7)"}, {"offset": 1, "color": "rgba(76,175,80,0.08)"}]}},
 "encoding": {"x": {"field": "d", "type": "temporal"}, "y": {"field": "v", "type": "quantitative"}, "y2": {"datum": 70}}},
{"data": {"name": "rsima"}, "mark": {"type": "line", "color": "#fde047", "strokeWidth": 1.5, "interpolate": "monotone"},
 "encoding": {"x": {"field": "d", "type": "temporal"}, "y": {"field": "v", "type": "quantitative"}}},
{"data": {"name": "rsi"}, "mark": {"type": "line", "color": "#7e57c2", "strokeWidth": 1.2},
 "encoding": {
  "x": {"field": "d", "type": "temporal", "scale": {"type": "utc", "padding": 0, "domain": [{"year":2023,"month":7,"date":16,"utc":true},{"year":2024,"month":1,"date":3,"hours":5,"utc":true}]},
        "axis": {"labels": false, "ticks": false, "domain": false, "title": null, "grid": true, "gridColor": "#f0f3fa",
                 "values": [{"year":2023,"month":7,"date":17,"utc":true},{"year":2023,"month":8,"date":1,"utc":true},{"year":2023,"month":8,"date":14,"utc":true},{"year":2023,"month":9,"date":1,"utc":true},{"year":2023,"month":9,"date":18,"utc":true},{"year":2023,"month":10,"date":1,"utc":true},{"year":2023,"month":10,"date":16,"utc":true},{"year":2023,"month":11,"date":1,"utc":true},{"year":2023,"month":11,"date":13,"utc":true},{"year":2023,"month":12,"date":1,"utc":true},{"year":2023,"month":12,"date":18,"utc":true},{"year":2024,"month":1,"date":1,"utc":true}]}},
  "y": {"field": "v", "type": "quantitative", "scale": {"domain": [23.5, 100.1], "nice": false, "zero": false, "padding": 0},
        "axis": {"orient": "right", "values": [57.5], "labelExpr": "'57.50'", "labelOffset": 7, "grid": false, "ticks": false, "domain": false, "title": null, "labelPadding": 8}}
 }},
{"data": {"values": [{"v": 65.03}]}, "layer": [
 {"mark": {"type": "rect", "color": "#7e57c2", "yOffset": -8, "y2Offset": 8, "cornerRadius": 2},
  "encoding": {"x": {"datum": {"year":2024,"month":1,"date":3,"hours":5,"utc":true}, "type": "temporal"}, "x2": {"datum": {"year":2024,"month":1,"date":9,"hours":10,"utc":true}}, "y": {"field": "v", "type": "quantitative"}, "y2": {"field": "v"}}},
 {"mark": {"type": "text", "color": "#ffffff", "fontSize": 12, "baseline": "middle", "align": "center"},
  "encoding": {"x": {"datum": {"year":2024,"month":1,"date":6,"hours":7,"utc":true}, "type": "temporal"}, "y": {"field": "v", "type": "quantitative"}, "text": {"field": "v", "format": ".2f"}}}
]},
{"data": {"values": [{"v": 67.08}]}, "layer": [
 {"mark": {"type": "rect", "color": "#ffeb3b", "yOffset": -24, "y2Offset": -8, "cornerRadius": 2},
  "encoding": {"x": {"datum": {"year":2024,"month":1,"date":3,"hours":5,"utc":true}, "type": "temporal"}, "x2": {"datum": {"year":2024,"month":1,"date":9,"hours":10,"utc":true}}, "y": {"field": "v", "type": "quantitative"}, "y2": {"field": "v"}}},
 {"mark": {"type": "text", "color": "#131722", "fontSize": 12, "dy": -16, "baseline": "middle", "align": "center"},
  "encoding": {"x": {"datum": {"year":2024,"month":1,"date":6,"hours":7,"utc":true}, "type": "temporal"}, "y": {"field": "v", "type": "quantitative"}, "text": {"field": "v", "format": ".2f"}}}
]},
{"data": {"name": "one"}, "mark": {"type": "text", "align": "left", "baseline": "middle", "fontSize": 12, "color": "#131722"},
 "encoding": {"x": {"datum": {"year":2023,"month":7,"date":17,"hours":10,"minutes":30,"utc":true}, "type": "temporal"}, "y": {"datum": 82.9}, "text": {"value": "RSI"}}},
{"data": {"name": "one"}, "mark": {"type": "text", "align": "left", "baseline": "middle", "fontSize": 12, "color": "#7e57c2"},
 "encoding": {"x": {"datum": {"year":2023,"month":7,"date":20,"hours":14,"utc":true}, "type": "temporal"}, "y": {"datum": 82.9}, "text": {"value": "65.03"}}},
{"data": {"name": "one"}, "mark": {"type": "text", "align": "left", "baseline": "middle", "fontSize": 12, "color": "#f5d000"},
 "encoding": {"x": {"datum": {"year":2023,"month":7,"date":26,"utc":true}, "type": "temporal"}, "y": {"datum": 82.9}, "text": {"value": "67.08"}}},
{"data": {"name": "one"}, "mark": {"type": "text", "align": "left", "baseline": "middle", "fontSize": 12, "color": "#131722"},
 "encoding": {"x": {"datum": {"year":2023,"month":7,"date":31,"hours":10,"utc":true}, "type": "temporal"}, "y": {"datum": 82.9}, "text": {"value": "∅  ∅  ∅  ∅  ∅  ∅"}}}
]
},
{
"width": 1201, "height": 41,
"layer": [
{"data": {"name": "ao"}, "mark": {"type": "bar", "size": 5.5},
 "encoding": {
  "x": {"field": "d", "type": "temporal", "scale": {"type": "utc", "padding": 0, "domain": [{"year":2023,"month":7,"date":16,"utc":true},{"year":2024,"month":1,"date":3,"hours":5,"utc":true}]},
        "axis": {"ticks": false, "domain": false, "grid": true, "gridColor": "#f0f3fa", "labelFlush": 10, "labelFlushOffset": 5, "labelPadding": 8,
                 "values": [{"year":2023,"month":7,"date":17,"utc":true},{"year":2023,"month":8,"date":1,"utc":true},{"year":2023,"month":8,"date":14,"utc":true},{"year":2023,"month":9,"date":1,"utc":true},{"year":2023,"month":9,"date":18,"utc":true},{"year":2023,"month":10,"date":1,"utc":true},{"year":2023,"month":10,"date":16,"utc":true},{"year":2023,"month":11,"date":1,"utc":true},{"year":2023,"month":11,"date":13,"utc":true},{"year":2023,"month":12,"date":1,"utc":true},{"year":2023,"month":12,"date":18,"utc":true},{"year":2024,"month":1,"date":1,"utc":true}],
                 "labelExpr": "utcdate(datum.value) == 1 ? (utcmonth(datum.value) == 0 ? utcFormat(datum.value, '%Y') : utcFormat(datum.value, '%b')) : utcFormat(datum.value, '%-d')",
                 "labelFontWeight": {"condition": {"test": "utcmonth(datum.value) == 0 && utcdate(datum.value) == 1", "value": "bold"}, "value": "normal"},
                 "title": "TradingView", "titleAnchor": "start", "titleAlign": "left", "titleX": 24, "titleY": 45, "titleBaseline": "middle", "titleFontSize": 14, "titleFontWeight": "normal", "titleColor": "#131722"}},
  "y": {"field": "v", "type": "quantitative", "scale": {"domain": [-0.557, 2.954], "nice": false, "zero": false, "padding": 0},
        "axis": {"orient": "right", "values": [2.5], "format": ".3f", "grid": false, "ticks": false, "domain": false, "title": null, "labelPadding": 8}},
  "y2": {"datum": 0},
  "color": {"field": "s", "type": "nominal", "scale": {"domain": ["up","dn"], "range": ["#089981","#f23645"]}, "legend": null}
 }},
{"data": {"values": [{"v": 1.156}]}, "layer": [
 {"mark": {"type": "rect", "color": "#f23645", "yOffset": -8, "y2Offset": 8, "cornerRadius": 2},
  "encoding": {"x": {"datum": {"year":2024,"month":1,"date":3,"hours":5,"utc":true}, "type": "temporal"}, "x2": {"datum": {"year":2024,"month":1,"date":9,"hours":10,"utc":true}}, "y": {"field": "v", "type": "quantitative"}, "y2": {"field": "v"}}},
 {"mark": {"type": "text", "color": "#ffffff", "fontSize": 12, "baseline": "middle", "align": "center"},
  "encoding": {"x": {"datum": {"year":2024,"month":1,"date":6,"hours":7,"utc":true}, "type": "temporal"}, "y": {"field": "v", "type": "quantitative"}, "text": {"field": "v", "format": ".3f"}}}
]},
{"data": {"name": "one"}, "mark": {"type": "point", "filled": true, "color": "#131722", "opacity": 1, "size": 400, "shape": "M-1,-0.5H-0.15V0.5H-0.55V-0.2H-1Z M-0.05,-0.5H0.25V-0.2H-0.05Z M0.42,-0.5H1L0.5,0.5H-0.08Z"},
 "encoding": {"x": {"datum": {"year":2023,"month":7,"date":17,"hours":18,"utc":true}, "type": "temporal"}, "y": {"datum": -4.41}}},
{"data": {"name": "one"}, "mark": {"type": "text", "align": "left", "baseline": "middle", "fontSize": 12, "color": "#131722"},
 "encoding": {"x": {"datum": {"year":2023,"month":7,"date":17,"hours":11,"utc":true}, "type": "temporal"}, "y": {"datum": 1.64}, "text": {"value": "AO"}}},
{"data": {"name": "one"}, "mark": {"type": "text", "align": "left", "baseline": "middle", "fontSize": 12, "color": "#f23645"},
 "encoding": {"x": {"datum": {"year":2023,"month":7,"date":20,"hours":16,"minutes":30,"utc":true}, "type": "temporal"}, "y": {"datum": 1.64}, "text": {"value": "1.156"}}}
]
}
]
}
